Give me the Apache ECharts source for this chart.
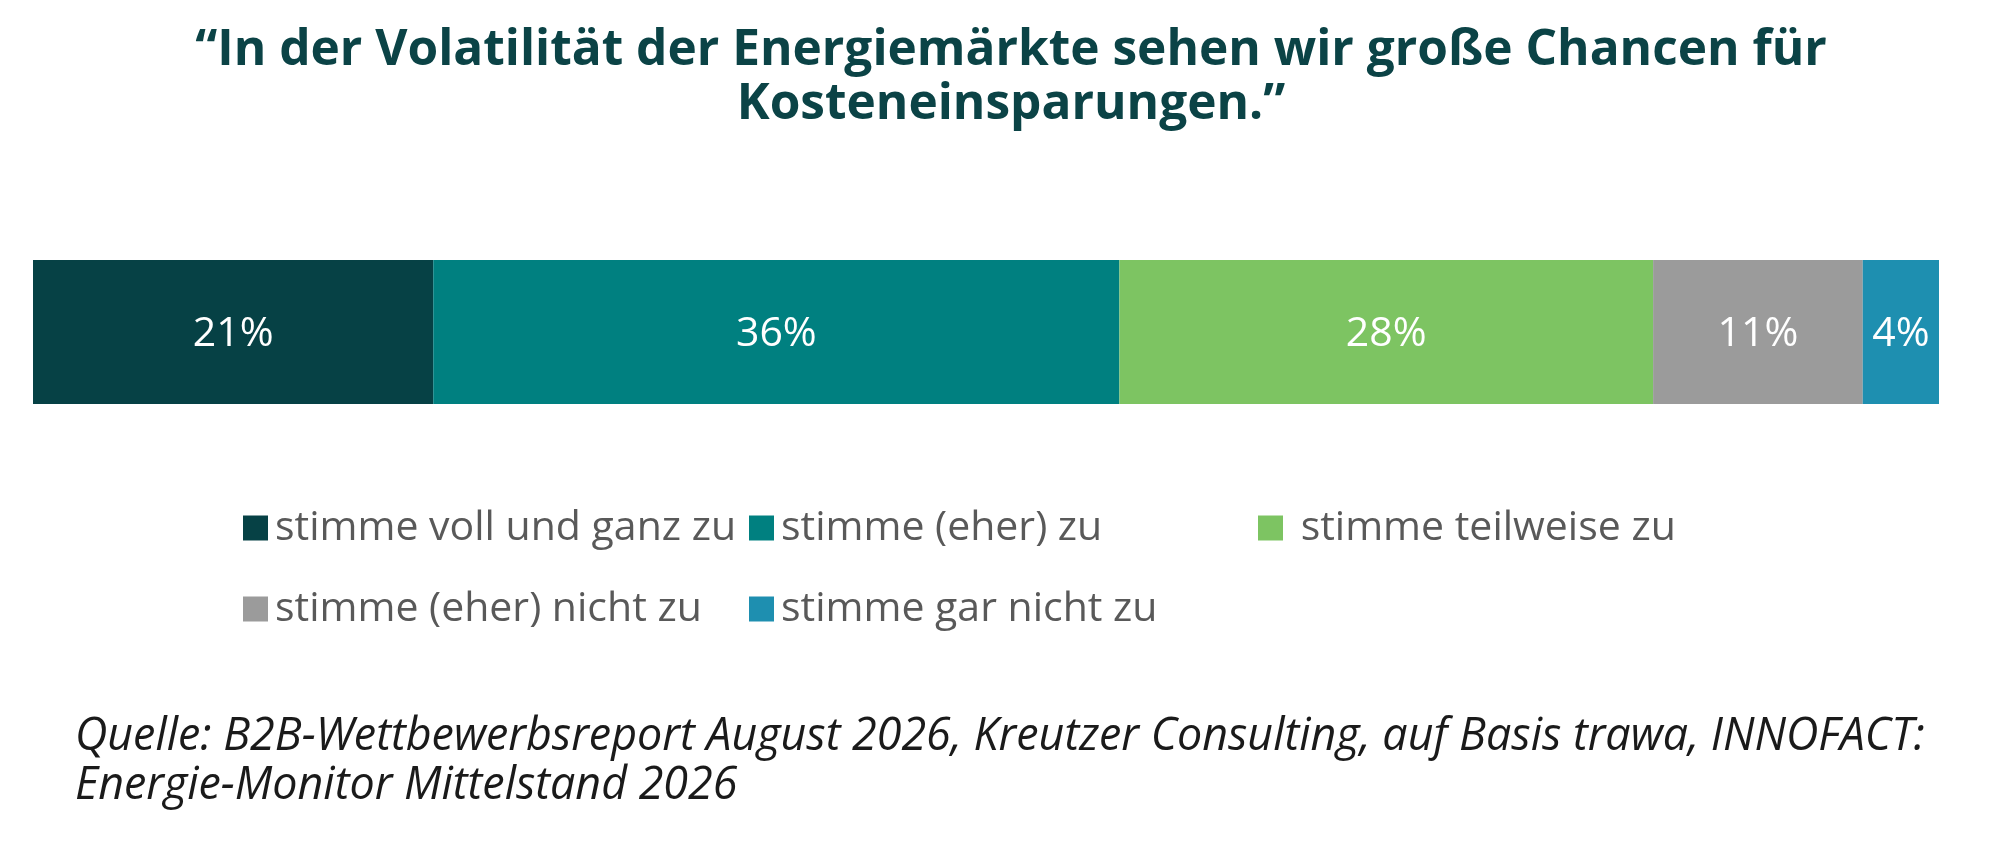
<!DOCTYPE html>
<html>
<head>
<meta charset="utf-8">
<title>Energiemärkte</title>
<script src="https://cdn.jsdelivr.net/npm/echarts@6/dist/echarts.min.js"></script>
<style>
  html, body { margin: 0; padding: 0; background: #fff; }
  #chart { width: 2000px; height: 842px; }
</style>
</head>
<body>
<div id="chart"></div>
<script>
// Antwortkategorien (Legendenreihenfolge)
const categories = [
  'stimme voll und ganz zu',
  'stimme (eher) zu',
  ' stimme teilweise zu',
  'stimme (eher) nicht zu',
  'stimme gar nicht zu'
];
// Anteile in Prozent
const values = [21, 36, 28, 11, 4];
// Farbsequenz
const colors = ['#064145', '#008080', '#7dc462', '#9b9b9b', '#1e8fb0'];
const rowLabel = ['Aussage'];

const titleText = '“In der Volatilität der Energiemärkte sehen wir große Chancen für\nKosteneinsparungen.”';
const sourceText = 'Quelle: B2B-Wettbewerbsreport August 2026, Kreutzer Consulting, auf Basis trawa, INNOFACT:\nEnergie-Monitor Mittelstand 2026';

const font = '"Open Sans", "Noto Sans", sans-serif';

const myChart = echarts.init(document.getElementById('chart'));

const series = categories.map((name, i) => ({
  name,
  type: 'bar',
  stack: 'total',
  barWidth: '100%',
  itemStyle: { color: colors[i] },
  label: {
    show: true,
    position: 'inside',
    color: '#fff',
    fontFamily: font,
    fontSize: 41,
    offset: [0, 2],
    formatter: (p) => p.value + '%'
  },
  data: [values[i]]
}));

// Legende in drei Spalten, je eine vertikale Legende
const legendCols = [
  { left: 238, data: [categories[0], categories[3]] },
  { left: 744, data: [categories[1], categories[4]] },
  { left: 1253, data: [categories[2]] }
];
const legend = legendCols.map((c) => ({
  orient: 'vertical',
  left: c.left,
  top: 499,
  itemWidth: 25,
  itemHeight: 25,
  itemGap: 33,
  icon: 'rect',
  selectedMode: false,
  textStyle: {
    fontFamily: font,
    fontSize: 41,
    lineHeight: 48,
    color: '#595959',
    padding: [0, 0, 0, 2]
  },
  data: c.data
}));

const option = {
  animation: false,
  backgroundColor: '#fff',
  title: {
    text: titleText,
    left: 1006,
    top: 19,
    textAlign: 'center',
    textStyle: {
      fontFamily: font,
      fontWeight: 'bold',
      fontSize: 49.6,
      lineHeight: 54,
      color: '#0b4346'
    }
  },
  legend,
  grid: { left: 33, right: 61, top: 260, height: 144 },
  xAxis: { type: 'value', min: 0, max: 100, show: false },
  yAxis: { type: 'category', data: rowLabel, show: false },
  series,
  graphic: [{
    type: 'text',
    left: 75,
    top: 713,
    style: {
      text: sourceText,
      fontFamily: font,
      fontStyle: 'italic',
      fontSize: 44.8,
      lineHeight: 49,
      fill: '#1a1a1a'
    }
  }]
};

myChart.setOption(option);
</script>
</body>
</html>
